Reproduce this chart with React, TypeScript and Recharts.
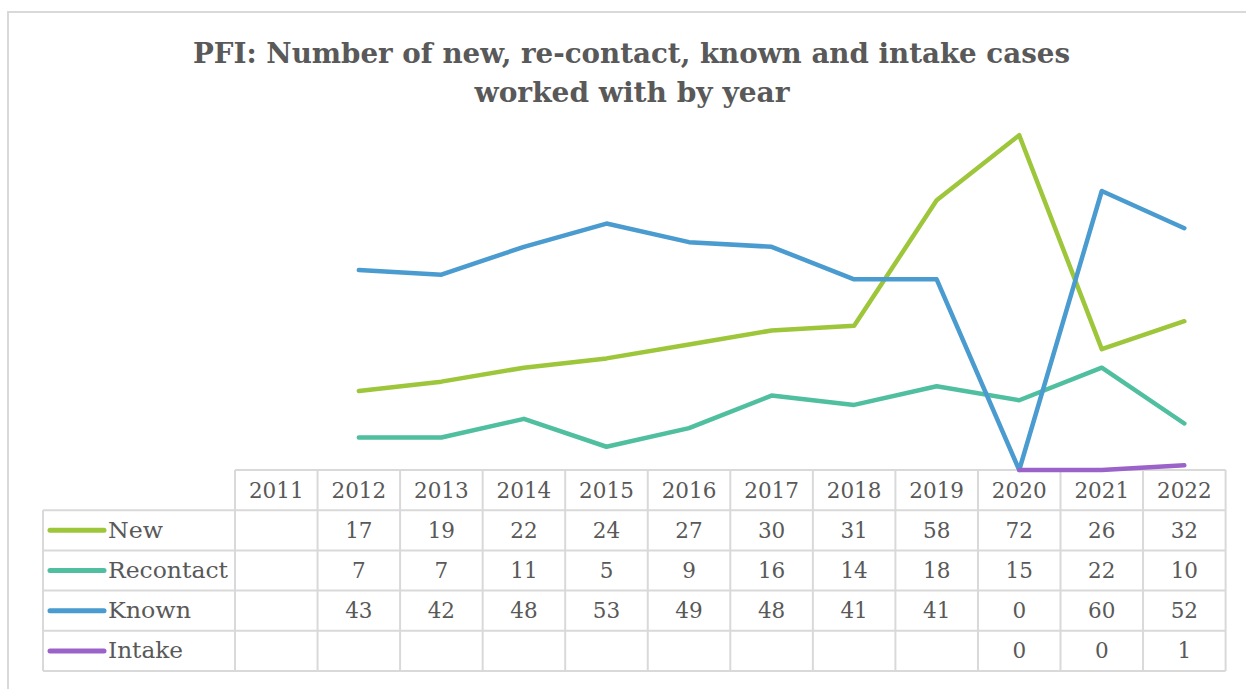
import React from 'react';
import { LineChart, Line, XAxis, YAxis } from 'recharts';

const years = ['2011', '2012', '2013', '2014', '2015', '2016', '2017', '2018', '2019', '2020', '2021', '2022'];
const newCases = [null, 17, 19, 22, 24, 27, 30, 31, 58, 72, 26, 32];
const recontactCases = [null, 7, 7, 11, 5, 9, 16, 14, 18, 15, 22, 10];
const knownCases = [null, 43, 42, 48, 53, 49, 48, 41, 41, 0, 60, 52];
const intakeCases = [null, null, null, null, null, null, null, null, null, 0, 0, 1];

const seriesList = [
  { key: 'newCases', name: 'New', values: newCases, color: '#9DC63B', labelW: 55 },
  { key: 'recontact', name: 'Recontact', values: recontactCases, color: '#4FBF9F', labelW: 120 },
  { key: 'known', name: 'Known', values: knownCases, color: '#4A9BCF', labelW: 83 },
  { key: 'intake', name: 'Intake', values: intakeCases, color: '#9B63C9', labelW: 75 },
];

const data = years.map((year, i) => {
  const row: any = { year };
  seriesList.forEach((s) => { row[s.key] = s.values[i]; });
  return row;
});

// layout (matches the Excel data table under the plot)
const W = 1246;
const H = 689;
const plotLeft = 235;
const plotRight = 1225.6;
const plotTop = 98;
const plotBottom = 470;
const colW = (plotRight - plotLeft) / years.length;
const tableLeft = 43;
const rowH = 40.2;
const textColor = '#595959';
const gridColor = '#D9D9D9';
const font = '"DejaVu Serif", serif';

// title + data table, drawn underneath the lines
function Backdrop() {
  const colX = (i: number) => plotLeft + colW * (i + 0.5);
  const rowY = (r: number) => plotBottom + rowH * r;
  const lines: React.ReactNode[] = [];
  lines.push(<line key="h0" x1={plotLeft} x2={plotRight} y1={rowY(0)} y2={rowY(0)} />);
  for (let r = 1; r <= 5; r++) {
    lines.push(<line key={'h' + r} x1={tableLeft} x2={plotRight} y1={rowY(r)} y2={rowY(r)} />);
  }
  lines.push(<line key="v-left" x1={tableLeft} x2={tableLeft} y1={rowY(1)} y2={rowY(5)} />);
  for (let c = 0; c <= years.length; c++) {
    const x = plotLeft + colW * c;
    lines.push(<line key={'v' + c} x1={x} x2={x} y1={rowY(0)} y2={rowY(5)} />);
  }

  return (
    <svg width={W} height={H} style={{ position: 'absolute', left: 0, top: 0 }}>
      <rect x={8} y={12} width={W + 20} height={H + 20} fill="none" stroke={gridColor} strokeWidth={2} />
      <text x={631.5} y={53} textAnchor="middle" dominantBaseline="central" fontFamily={font} fontWeight="bold"
        fontSize={27} fill={textColor} textLength={877} lengthAdjust="spacingAndGlyphs">
        PFI: Number of new, re-contact, known and intake cases
      </text>
      <text x={632} y={92} textAnchor="middle" dominantBaseline="central" fontFamily={font} fontWeight="bold"
        fontSize={27} fill={textColor} textLength={315} lengthAdjust="spacingAndGlyphs">
        worked with by year
      </text>
      <g stroke={gridColor} strokeWidth={2}>{lines}</g>
      <g fontFamily={font} fontSize={21.5} fill={textColor}>
        {years.map((y, i) => (
          <text key={y} x={colX(i)} y={rowY(0.5)} textAnchor="middle" dominantBaseline="central">{y}</text>
        ))}
        {seriesList.map((s, r) => (
          <g key={s.key}>
            <line x1={50} x2={104} y1={rowY(r + 1.5)} y2={rowY(r + 1.5)} stroke={s.color} strokeWidth={5} strokeLinecap="round" />
            <text x={108} y={rowY(r + 1.5)} dominantBaseline="central" textLength={s.labelW} lengthAdjust="spacingAndGlyphs">{s.name}</text>
            {s.values.map((v, i) => v === null ? null : (
              <text key={i} x={colX(i)} y={rowY(r + 1.5)} textAnchor="middle" dominantBaseline="central">{v}</text>
            ))}
          </g>
        ))}
      </g>
    </svg>
  );
}

export default function App() {
  return (
    <div style={{ position: 'absolute', left: 0, top: 0, width: W, height: H, background: '#fff', overflow: 'hidden' }}>
      <Backdrop />
      <div style={{ position: 'absolute', left: 0, top: 0 }}>
        <LineChart
          width={W}
          height={H}
          data={data}
          margin={{ top: plotTop, right: W - plotRight, bottom: H - plotBottom, left: plotLeft }}
        >
          <XAxis dataKey="year" scale="band" hide />
          <YAxis domain={[0, 80]} hide />
          {seriesList.map((s) => (
            <Line
              key={s.key}
              dataKey={s.key}
              name={s.name}
              stroke={s.color}
              strokeWidth={4.5}
              strokeLinecap="round"
              strokeLinejoin="round"
              dot={false}
              activeDot={false}
              isAnimationActive={false}
            />
          ))}
        </LineChart>
      </div>
    </div>
  );
}
